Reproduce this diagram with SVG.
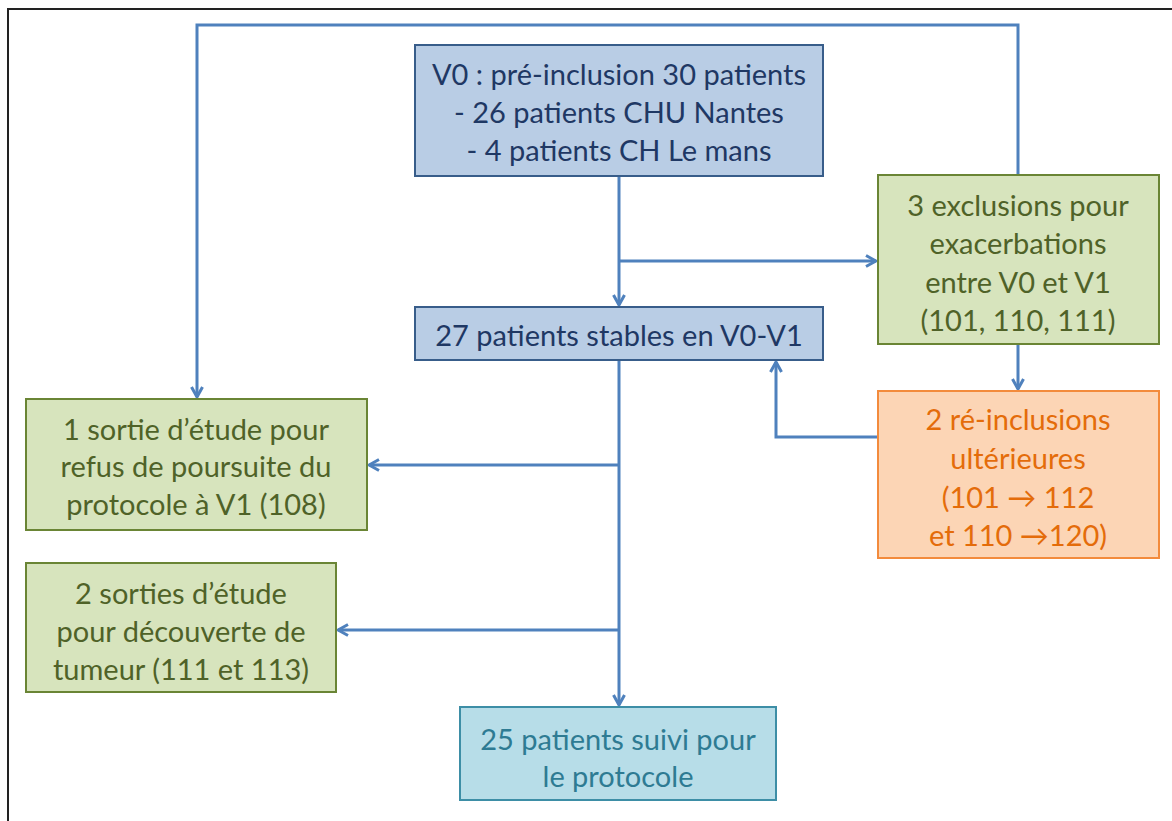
<svg xmlns="http://www.w3.org/2000/svg" width="1172" height="821" viewBox="0 0 1172 821">
  <defs>
    <marker id="arrow" viewBox="0 0 14 14" refX="12" refY="7" markerWidth="14" markerHeight="14" markerUnits="userSpaceOnUse" orient="auto">
      <path d="M2,1.5 L12,7 L2,12.5" fill="none" stroke="#4f81bd" stroke-width="3" stroke-linejoin="miter"/>
    </marker>
  </defs>
  <style>
    text { font-family: Lato, "Open Sans", "Liberation Sans", sans-serif; font-size: 29px; text-anchor: middle; }
    .blue rect { fill: #b9cde5; stroke: #385d8a; stroke-width: 2; }
    .blue text { fill: #1f3864; }
    .green rect { fill: #d7e4bd; stroke: #6a8535; stroke-width: 2; }
    .green text { fill: #4f6228; }
    .orange rect { fill: #fcd5b5; stroke: #f38b3c; stroke-width: 2; }
    .orange text { fill: #e46c0a; }
    .teal rect { fill: #b7dde8; stroke: #3d8ea6; stroke-width: 2; }
    .teal text { fill: #2e7b93; }
    .conn { fill: none; stroke: #4f81bd; stroke-width: 3; }
  </style>

  <rect width="1172" height="821" fill="#ffffff"/>
  <!-- outer frame -->
  <path d="M8,821 V9 H1172" fill="none" stroke="#222222" stroke-width="2"/>

  <g id="connectors">
    <path class="conn" d="M619,176 V305" marker-end="url(#arrow)"/>
    <path class="conn" d="M619,261 H876" marker-end="url(#arrow)"/>
    <path class="conn" d="M1018,175 V25 H197 V397" marker-end="url(#arrow)"/>
    <path class="conn" d="M1018,344 V389" marker-end="url(#arrow)"/>
    <path class="conn" d="M878,437 H776 V362" marker-end="url(#arrow)"/>
    <path class="conn" d="M619,360 V705" marker-end="url(#arrow)"/>
    <path class="conn" d="M619,465 H369" marker-end="url(#arrow)"/>
    <path class="conn" d="M619,630 H338" marker-end="url(#arrow)"/>
  </g>

  <g id="v0" class="blue">
    <rect x="415" y="45" width="408" height="131"/>
    <text x="619" y="85">V0 : pré-inclusion 30 patients</text>
    <text x="619" y="123">- 26 patients CHU Nantes</text>
    <text x="619" y="161">- 4 patients CH Le mans</text>
  </g>

  <g id="stables" class="blue">
    <rect x="415" y="307" width="408" height="53"/>
    <text x="619" y="346">27 patients stables en V0-V1</text>
  </g>

  <g id="exclusions" class="green">
    <rect x="878" y="175" width="281" height="169"/>
    <text x="1018" y="216">3 exclusions pour</text>
    <text x="1018" y="254">exacerbations</text>
    <text x="1018" y="293">entre V0 et V1</text>
    <text x="1018" y="331">(101, 110, 111)</text>
  </g>

  <g id="reinclusions" class="orange">
    <rect x="878" y="391" width="281" height="167"/>
    <text x="1018" y="430">2 ré-inclusions</text>
    <text x="1018" y="469">ultérieures</text>
    <text x="1018" y="508">(101 → 112</text>
    <text x="1018" y="546">et 110 →120)</text>
  </g>

  <g id="sortie1" class="green">
    <rect x="26" y="399" width="341" height="131"/>
    <text x="196" y="440">1 sortie d’étude pour</text>
    <text x="196" y="477">refus de poursuite du</text>
    <text x="196" y="515">protocole à V1 (108)</text>
  </g>

  <g id="sortie2" class="green">
    <rect x="26" y="563" width="310" height="129"/>
    <text x="181" y="604">2 sorties d’étude</text>
    <text x="181" y="642">pour découverte de</text>
    <text x="181" y="680">tumeur (111 et 113)</text>
  </g>

  <g id="suivi" class="teal">
    <rect x="460" y="707" width="316" height="93"/>
    <text x="618" y="750">25 patients suivi pour</text>
    <text x="618" y="787">le protocole</text>
  </g>
</svg>
